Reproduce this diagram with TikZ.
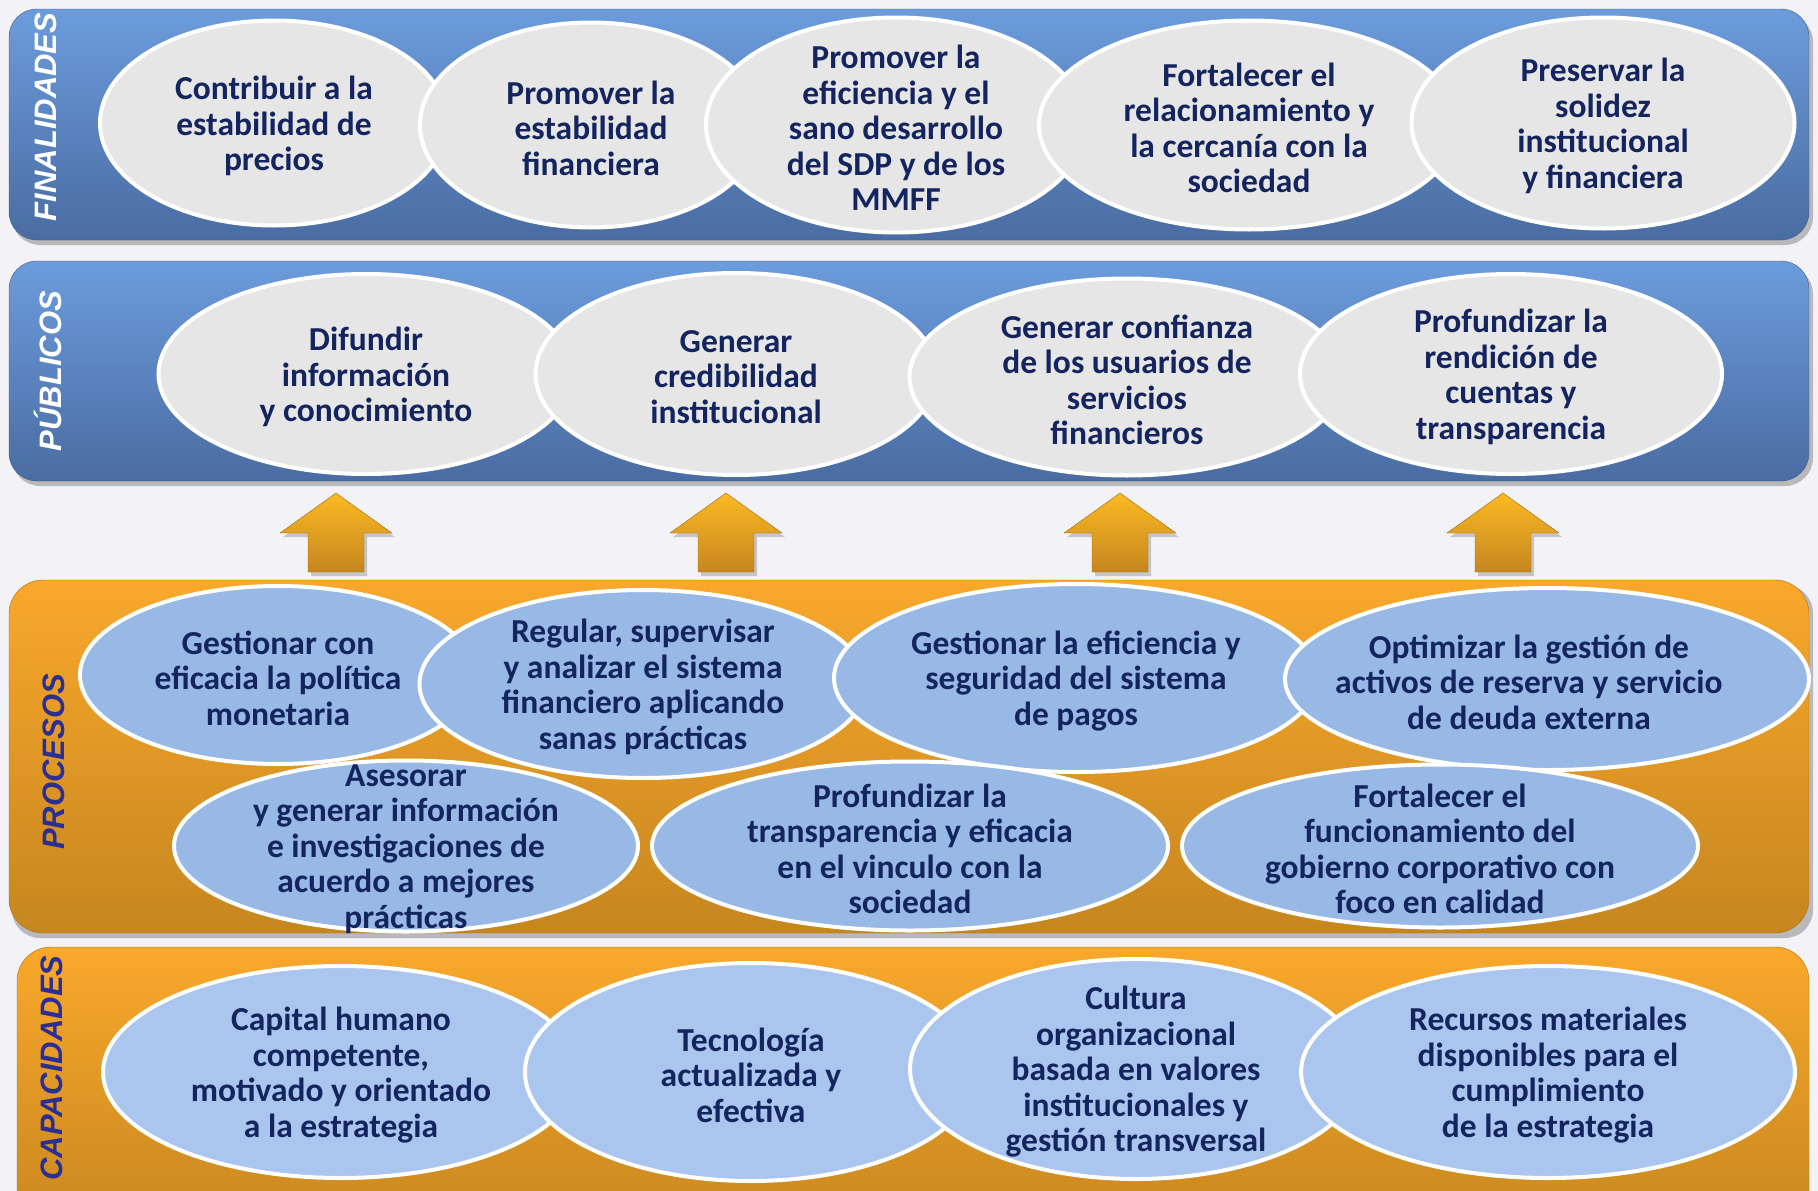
\documentclass[tikz,border=0pt]{standalone}
\usepackage{fontspec}
\setmainfont{Carlito}
\newfontfamily\rotulofont{Liberation Sans}
\usepackage{xcolor}
\usepackage{tikz}
\usetikzlibrary{shapes.geometric}

\definecolor{fondo}{HTML}{F3F3F7}
\definecolor{azulclaro}{HTML}{6C9CDC}
\definecolor{azuloscuro}{HTML}{4A6CA2}
\definecolor{naranjaclaro}{HTML}{F9A82B}
\definecolor{naranjaoscuro}{HTML}{C6861F}
\definecolor{gris}{HTML}{E6E6E6}
\definecolor{celeste}{HTML}{98B8E6}
\definecolor{celestecap}{HTML}{AAC5EE}
\definecolor{marino}{HTML}{13245E}
\definecolor{rotuloazul}{HTML}{2B2F95}

\tikzset{
  elipse/.style={ellipse, draw=white, line width=4pt, inner sep=0pt},
  texto/.style={align=center, text=marino, yshift=-3pt, font=\fontsize{33.5}{35.5}\selectfont\bfseries},
  rotulo/.style={rotate=90, font=\rotulofont\fontsize{31}{31}\selectfont\bfseries\itshape},
  sombra/.style={fill=black!55, opacity=0.45, rounded corners=28},
}

\begin{document}
\begin{tikzpicture}[x=1pt, y=-1pt]
        \useasboundingbox (0,0) rectangle (1818,1191);
        \clip (0,0) rectangle (1818,1191);
        \fill[fondo] (0,0) rectangle (1818,1191);

        % Bandas
        \fill[sombra] (12,14) rectangle (1813,245);
        \shadedraw[top color=azulclaro, bottom color=azuloscuro, draw=azuloscuro!85!black, rounded corners=28] (9,9) rectangle (1809,240);
        \fill[sombra] (12,266) rectangle (1813,486);
        \shadedraw[top color=azulclaro, bottom color=azuloscuro, draw=azuloscuro!85!black, rounded corners=28] (9,261) rectangle (1809,481);
        \fill[sombra] (12,585) rectangle (1813,938);
        \shadedraw[top color=naranjaclaro, bottom color=naranjaoscuro, draw=naranjaoscuro!85!black, rounded corners=34] (9,580) rectangle (1809,933);
        \shadedraw[top color=naranjaclaro, bottom color=naranjaoscuro, draw=naranjaoscuro!85!black, rounded corners=34] (17,947) rectangle (1809,1240);

        % Flechas
        \foreach \x in {336,726,1120,1503} {
            \fill[black!50, opacity=0.4] (\x+3,497) -- (\x+59,537) -- (\x+31,537) -- (\x+31,576) -- (\x-25,576) -- (\x-25,537) -- (\x-53,537) -- cycle;
            \shadedraw[top color=naranjaclaro!80!yellow, bottom color=naranjaoscuro, draw=naranjaoscuro!80!black] (\x,493) -- (\x+56,533) -- (\x+28,533) -- (\x+28,572) -- (\x-28,572) -- (\x-28,533) -- (\x-56,533) -- cycle;
        }

        % Finalidades
        \node[elipse, fill=gris, minimum width=348, minimum height=205] (fin1) at (274,123) {};
        \node[texto] at (fin1) {Contribuir a la\\estabilidad de\\precios};
        \node[elipse, fill=gris, minimum width=342, minimum height=205] (fin2) at (591,125) {};
        \node[texto] at (fin2) {Promover la\\estabilidad\\financiera};
        \node[elipse, fill=gris, minimum width=380, minimum height=215] (fin3) at (896,125) {};
        \node[texto] at (fin3) {Promover la\\eficiencia y el\\sano desarrollo\\del SDP y de los\\MMFF};
        \node[elipse, fill=gris, minimum width=420, minimum height=209] (fin4) at (1249,125) {};
        \node[texto] at (fin4) {Fortalecer el\\relacionamiento y\\la cercanía con la\\sociedad};
        \node[elipse, fill=gris, minimum width=383, minimum height=211] (fin5) at (1603,123) {};
        \node[texto] at (fin5) {Preservar la\\solidez\\institucional\\y financiera};

        % Publicos
        \node[elipse, fill=gris, minimum width=415, minimum height=200] (pub1) at (366,374) {};
        \node[texto] at (pub1) {Difundir\\información\\y conocimiento};
        \node[elipse, fill=gris, minimum width=401, minimum height=202] (pub2) at (736,374) {};
        \node[texto] at (pub2) {Generar\\credibilidad\\institucional};
        \node[elipse, fill=gris, minimum width=435, minimum height=197] (pub3) at (1127,377) {};
        \node[texto] at (pub3) {Generar confianza\\de los usuarios de\\servicios\\financieros};
        \node[elipse, fill=gris, minimum width=422, minimum height=200] (pub4) at (1511,374) {};
        \node[texto] at (pub4) {Profundizar la\\rendición de\\cuentas y\\transparencia};

        % Procesos
        \node[elipse, fill=celeste, minimum width=396, minimum height=178] (pro1) at (278,675) {};
        \node[texto] at (pro1) {Gestionar con\\eficacia la política\\monetaria};
        \node[elipse, fill=celeste, minimum width=447, minimum height=188] (pro2) at (643,684) {};
        \node[texto] at (pro2) {Regular, supervisar\\y analizar el sistema\\financiero aplicando\\sanas prácticas};
        \node[elipse, fill=celeste, minimum width=484, minimum height=188] (pro3) at (1076,678) {};
        \node[texto] at (pro3) {Gestionar la eficiencia y\\seguridad del sistema\\de pagos};
        \node[elipse, fill=celeste, minimum width=524, minimum height=182] (pro4) at (1547,679) {};
        \node[texto] at (1529,679) {Optimizar la gestión de\\activos de reserva y servicio\\de deuda externa};
        \node[elipse, fill=celeste, minimum width=464, minimum height=171] (pro5) at (406,846) {};
        \node[texto] at (pro5) {Asesorar\\y generar información\\e investigaciones de\\acuerdo a mejores\\prácticas};
        \node[elipse, fill=celeste, minimum width=516, minimum height=169] (pro6) at (910,846) {};
        \node[texto] at (pro6) {Profundizar la\\transparencia y eficacia\\en el vinculo con la\\sociedad};
        \node[elipse, fill=celeste, minimum width=516, minimum height=163] (pro7) at (1440,846) {};
        \node[texto] at (pro7) {Fortalecer el\\funcionamiento del\\gobierno corporativo con\\foco en calidad};

        % Capacidades
        \node[elipse, fill=celestecap, minimum width=476, minimum height=212] (cap1) at (341,1072) {};
        \node[texto] at (cap1) {Capital humano\\competente,\\motivado y orientado\\a la estrategia};
        \node[elipse, fill=celestecap, minimum width=452, minimum height=218] (cap2) at (751,1072) {};
        \node[texto] at (cap2) {Tecnología\\actualizada y\\efectiva};
        \node[elipse, fill=celestecap, minimum width=452, minimum height=220] (cap3) at (1136,1069) {};
        \node[texto] at (cap3) {Cultura\\organizacional\\basada en valores\\institucionales y\\gestión transversal};
        \node[elipse, fill=celestecap, minimum width=494, minimum height=212] (cap4) at (1548,1072) {};
        \node[texto] at (cap4) {Recursos materiales\\disponibles para el\\cumplimiento\\de la estrategia};

        % Rotulos
        \node[rotulo, text=white] (finalidades) at (46,117) {FINALIDADES};
        \node[rotulo, text=white] (publicos) at (48,371) {PÚBLICOS};
        \node[rotulo, text=rotuloazul] (procesos) at (54,762) {PROCESOS};
        \node[rotulo, text=rotuloazul] (capacidades) at (52,1068) {CAPACIDADES};

    \end{tikzpicture}
\end{document}
